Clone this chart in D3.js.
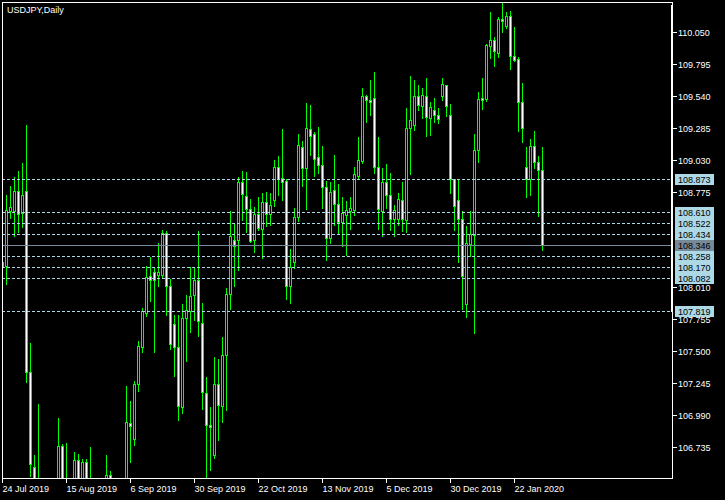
<!DOCTYPE html>
<html><head><meta charset="utf-8">
<script src="https://cdn.jsdelivr.net/npm/d3@7"></script>
<style>html,body{margin:0;padding:0;background:#000;overflow:hidden}</style>
</head><body>
<svg id="c" width="725" height="500"></svg>
<script>
const title = "USDJPY,Daily";
const dates = [
"2019-07-24","2019-07-25","2019-07-26","2019-07-29","2019-07-30","2019-07-31",
"2019-08-01","2019-08-02","2019-08-05","2019-08-06","2019-08-07","2019-08-08","2019-08-09","2019-08-12","2019-08-13","2019-08-14","2019-08-15","2019-08-16","2019-08-19","2019-08-20","2019-08-21","2019-08-22","2019-08-23","2019-08-26","2019-08-27","2019-08-28","2019-08-29","2019-08-30",
"2019-09-02","2019-09-03","2019-09-04","2019-09-05","2019-09-06","2019-09-09","2019-09-10","2019-09-11","2019-09-12","2019-09-13","2019-09-16","2019-09-17","2019-09-18","2019-09-19","2019-09-20","2019-09-23","2019-09-24","2019-09-25","2019-09-26","2019-09-27","2019-09-30",
"2019-10-01","2019-10-02","2019-10-03","2019-10-04","2019-10-07","2019-10-08","2019-10-09","2019-10-10","2019-10-11","2019-10-14","2019-10-15","2019-10-16","2019-10-17","2019-10-18","2019-10-21","2019-10-22","2019-10-23","2019-10-24","2019-10-25","2019-10-28","2019-10-29","2019-10-30","2019-10-31",
"2019-11-01","2019-11-04","2019-11-05","2019-11-06","2019-11-07","2019-11-08","2019-11-11","2019-11-12","2019-11-13","2019-11-14","2019-11-15","2019-11-18","2019-11-19","2019-11-20","2019-11-21","2019-11-22","2019-11-25","2019-11-26","2019-11-27","2019-11-28","2019-11-29",
"2019-12-02","2019-12-03","2019-12-04","2019-12-05","2019-12-06","2019-12-09","2019-12-10","2019-12-11","2019-12-12","2019-12-13","2019-12-16","2019-12-17","2019-12-18","2019-12-19","2019-12-20","2019-12-23","2019-12-24","2019-12-26","2019-12-27","2019-12-30","2019-12-31",
"2020-01-02","2020-01-03","2020-01-06","2020-01-07","2020-01-08","2020-01-09","2020-01-10","2020-01-13","2020-01-14","2020-01-15","2020-01-16","2020-01-17","2020-01-20","2020-01-21","2020-01-22","2020-01-23","2020-01-24","2020-01-27","2020-01-28","2020-01-29","2020-01-30","2020-01-31"];
const open = [108.214,108.178,108.623,108.617,108.782,108.604,108.777,107.334,106.575,105.94,
106.45,106.08,106.06,105.68,105.31,106.745,105.90,106.11,106.36,106.634,
106.22,106.617,106.42,105.38,106.11,105.74,106.20,106.514,106.27,106.23,
105.98,106.44,106.927,106.799,107.235,107.534,107.805,108.099,108.134,108.112,
108.109,108.444,108.023,107.720,107.534,107.051,107.765,107.818,107.952,108.072,
107.725,107.166,106.910,106.668,107.241,107.059,107.472,107.957,108.390,108.386,
108.852,108.737,108.639,108.386,108.596,108.479,108.692,108.596,108.705,108.972,
108.884,108.857,108.018,108.210,108.572,109.131,108.964,109.275,109.238,109.052,
108.990,108.812,108.405,108.790,108.676,108.532,108.590,108.617,108.625,108.897,
109.016,109.536,109.510,109.523,108.972,108.617,108.852,108.745,108.559,108.559,
108.705,108.545,109.283,109.309,109.541,109.461,109.536,109.363,109.424,109.390,
109.541,109.629,109.389,108.876,108.705,108.556,107.877,108.360,108.430,109.110,
109.520,109.517,109.935,109.988,109.880,110.156,110.100,110.180,109.855,109.834,
109.491,108.972,108.878,109.142,109.008,108.944];
const high = [108.30,108.758,108.830,108.902,108.950,109.008,109.317,107.571,106.68,107.086,
106.47,106.40,106.30,105.80,106.975,106.767,106.777,106.49,106.70,106.687,
106.65,106.65,106.74,106.45,106.20,106.35,106.681,106.55,106.30,106.25,
106.46,107.233,107.107,107.273,107.587,107.853,108.189,108.263,108.173,108.375,
108.479,108.471,108.085,107.800,107.800,107.885,107.960,108.183,108.183,108.471,
107.896,107.299,107.060,107.464,107.446,107.624,108.015,108.631,108.529,108.902,
108.945,108.936,108.724,108.662,108.737,108.772,108.777,108.772,109.038,109.070,
109.285,108.884,108.325,108.652,109.243,109.190,109.493,109.477,109.256,109.296,
109.150,108.865,108.857,109.078,108.844,108.742,108.705,108.737,108.982,109.216,
109.610,109.557,109.677,109.735,109.216,108.968,109.004,108.929,108.679,108.769,
108.857,109.451,109.709,109.677,109.637,109.613,109.690,109.500,109.530,109.450,
109.690,109.629,109.483,108.884,108.876,108.631,108.511,108.631,109.243,109.581,
109.690,109.960,110.220,110.015,110.180,110.290,110.220,110.228,110.100,109.860,
109.650,109.142,109.203,109.270,109.070,109.142];
const low = [107.98,108.034,108.564,108.417,108.449,108.489,107.251,106.50,105.52,105.52,
105.50,105.80,105.27,105.05,105.22,105.66,105.70,105.96,106.28,106.10,
106.10,106.20,105.10,104.46,105.60,105.60,106.10,106.10,106.00,105.74,
105.95,106.40,106.618,106.753,107.179,107.491,107.780,107.898,107.491,108.018,
108.085,107.786,107.518,107.305,106.953,107.007,107.420,107.650,107.752,107.618,
107.041,106.480,106.554,106.644,106.793,106.932,107.027,107.840,108.023,108.151,
108.551,108.449,108.369,108.290,108.471,108.245,108.497,108.511,108.657,108.745,
108.711,107.920,107.885,108.165,108.537,108.817,108.639,109.070,108.897,108.924,
108.644,108.231,108.364,108.511,108.444,108.342,108.271,108.476,108.591,108.880,
109.000,109.328,109.389,108.924,108.479,108.423,108.644,108.471,108.423,108.511,
108.457,108.449,108.918,109.270,109.430,109.367,109.220,109.230,109.330,109.320,
109.504,109.381,108.764,108.465,108.210,107.837,107.774,108.258,107.646,109.010,
109.435,109.500,109.842,109.780,109.847,110.047,110.080,109.757,109.820,109.262,
109.168,108.729,108.750,108.964,108.577,108.305];
const close = [108.178,108.631,108.652,108.782,108.596,108.750,107.334,106.599,105.94,106.47,
106.08,106.06,105.68,105.31,106.745,105.90,106.11,106.36,106.634,106.22,
106.617,106.42,105.38,106.11,105.74,106.20,106.514,106.27,106.23,105.98,
106.44,106.935,106.905,107.241,107.544,107.818,108.093,108.072,108.066,108.134,
108.444,108.018,107.558,107.534,107.059,107.765,107.832,107.938,108.072,107.738,
107.174,106.913,106.895,107.241,107.067,107.472,107.960,108.423,108.337,108.852,
108.756,108.636,108.378,108.596,108.484,108.692,108.596,108.665,108.972,108.878,
108.852,108.018,108.173,108.572,109.147,108.964,109.283,109.216,109.036,108.990,
108.812,108.405,108.772,108.676,108.532,108.604,108.630,108.644,108.918,109.030,
109.541,109.504,109.490,108.972,108.636,108.852,108.745,108.559,108.625,108.716,
108.556,109.283,109.350,109.541,109.469,109.549,109.371,109.450,109.390,109.355,
109.632,109.456,108.876,108.657,108.559,108.098,108.364,108.440,109.110,109.517,
109.510,109.949,109.988,109.895,110.156,110.135,110.180,109.855,109.830,109.488,
109.283,108.878,109.136,109.008,108.944,108.346];
const priceTicks = [110.050,109.795,109.540,109.285,109.030,108.775,108.010,107.755,107.500,107.245,106.990,106.735];
const dateTickKeys = ["2019-07-24","2019-08-15","2019-09-06","2019-09-30","2019-10-22","2019-11-13","2019-12-05","2019-12-30","2020-01-22"];
const dateTickLabels = ["24 Jul 2019","15 Aug 2019","6 Sep 2019","30 Sep 2019","22 Oct 2019","13 Nov 2019","5 Dec 2019","30 Dec 2019","22 Jan 2020"];
const levels = [108.873,108.610,108.522,108.434,108.258,108.170,108.082,107.819];
const bidLevel = 108.346;

const svg = d3.select("#c");
const FONT = "'Liberation Sans', Arial, sans-serif";
const GREEN = "#00ff00", LBLUE = "#add8e6", GREY = "#778899";
const L = 2, T = 2, R = 672, B = 478;

const x = d3.scalePoint().domain(dates).range([2, 2 + 4 * (dates.length - 1)]);
const y = d3.scaleLinear().domain([106.735, 110.050]).range([447, 32]);
const py = v => Math.round(y(v)) + 0.5;

svg.append("rect").attr("width", 725).attr("height", 500).attr("fill", "#000");
svg.append("defs").append("clipPath").attr("id", "plot")
  .append("rect").attr("x", L + 0.5).attr("y", T + 0.5).attr("width", R - L).attr("height", B - T);

const plot = svg.append("g").attr("clip-path", "url(#plot)").attr("shape-rendering", "crispEdges");
const bars = dates.map((d, i) => ({d, o: open[i], h: high[i], l: low[i], c: close[i]}));

plot.selectAll("line.wick").data(bars).join("line").attr("class", "wick")
  .attr("x1", b => x(b.d) + 0.5).attr("x2", b => x(b.d) + 0.5)
  .attr("y1", b => py(b.h)).attr("y2", b => py(b.l))
  .attr("stroke", GREEN).attr("stroke-width", 1);

plot.selectAll("rect.body").data(bars).join("rect").attr("class", "body")
  .attr("x", b => x(b.d) - 1 + 0.5)
  .attr("y", b => py(Math.max(b.o, b.c)))
  .attr("width", 2)
  .attr("height", b => Math.max(0, py(Math.min(b.o, b.c)) - py(Math.max(b.o, b.c))))
  .attr("fill", b => b.c < b.o ? "#fff" : "#000")
  .attr("stroke", GREEN).attr("stroke-width", 1);

plot.selectAll("line.lvl").data(levels).join("line").attr("class", "lvl")
  .attr("x1", L).attr("x2", R).attr("y1", py).attr("y2", py)
  .attr("stroke", LBLUE).attr("stroke-width", 1).attr("stroke-dasharray", "3,2");
plot.append("line").attr("x1", L).attr("x2", R).attr("y1", py(bidLevel)).attr("y2", py(bidLevel))
  .attr("stroke", GREY).attr("stroke-width", 1);

// frame
const frame = svg.append("g").attr("shape-rendering", "crispEdges").attr("stroke", "#fff").attr("stroke-width", 1);
frame.append("line").attr("x1", L + 0.5).attr("x2", L + 0.5).attr("y1", T).attr("y2", B + 1);
frame.append("line").attr("x1", L).attr("x2", R + 1).attr("y1", T + 0.5).attr("y2", T + 0.5);
frame.append("line").attr("x1", R + 0.5).attr("x2", R + 0.5).attr("y1", T).attr("y2", B + 1);
frame.append("line").attr("x1", R - 0.5).attr("x2", R - 0.5).attr("y1", T + 3).attr("y2", py(levels[levels.length - 1]) + 0.5);
frame.append("line").attr("x1", L).attr("x2", R + 1).attr("y1", B + 0.5).attr("y2", B + 0.5);

// y axis ticks
const yAx = svg.append("g");
yAx.selectAll("line").data(priceTicks).join("line")
  .attr("x1", R + 1).attr("x2", R + 5).attr("y1", py).attr("y2", py)
  .attr("stroke", "#fff").attr("shape-rendering", "crispEdges");
yAx.selectAll("text").data(priceTicks).join("text")
  .attr("x", 678).attr("y", v => Math.round(y(v)) + 4)
  .attr("fill", "#fff").attr("font-family", FONT).attr("font-size", "9px")
  .text(v => v.toFixed(3));

// level labels
const lab = svg.append("g");
const allLv = levels.map(v => ({v, bg: LBLUE})).concat([{v: bidLevel, bg: GREY}]);
lab.selectAll("rect").data(allLv).join("rect")
  .attr("x", 675).attr("y", d => Math.round(y(d.v)) - 5).attr("width", 39).attr("height", 11)
  .attr("fill", d => d.bg).attr("shape-rendering", "crispEdges");
lab.selectAll("text").data(allLv).join("text")
  .attr("x", 678).attr("y", d => Math.round(y(d.v)) + 4)
  .attr("fill", "#000").attr("font-family", FONT).attr("font-size", "9px")
  .text(d => d.v.toFixed(3));

// x axis
const xAx = svg.append("g");
xAx.selectAll("line").data(dateTickKeys).join("line")
  .attr("x1", d => x(d) + 0.5).attr("x2", d => x(d) + 0.5).attr("y1", B + 1).attr("y2", B + 5)
  .attr("stroke", "#fff").attr("shape-rendering", "crispEdges");
xAx.selectAll("text").data(dateTickKeys).join("text")
  .attr("x", d => x(d) + 0.5).attr("y", 492)
  .attr("fill", "#fff").attr("font-family", FONT).attr("font-size", "9px")
  .text((d, i) => dateTickLabels[i]);

svg.append("text").attr("x", 7).attr("y", 13).attr("fill", "#fff")
  .attr("font-family", FONT).attr("font-size", "9px").text(title);
</script>
</body></html>
